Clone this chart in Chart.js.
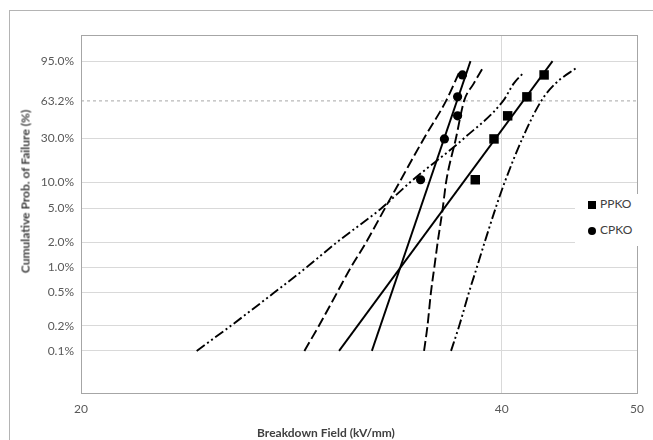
<!DOCTYPE html>
<html>
<head>
<meta charset="utf-8">
<script src="https://cdn.jsdelivr.net/npm/chart.js@4/dist/chart.umd.min.js"></script>
<style>
  body { margin: 0; background: #fff; font-family: Lato, sans-serif; }
  #wrap { position: relative; width: 653px; height: 440px; overflow: hidden; }
  #frame { position: absolute; left: 9px; top: 10px; width: 700px; height: 500px; border: 1px solid #b4b4b4; }
  canvas { position: absolute; left: 0; top: 0; }
  .axis-title { position: absolute; font: bold 12px Lato, sans-serif; color: #404040; white-space: nowrap; text-align: center; }
  #ytitle { left: -75px; top: 184px; width: 200px; transform: rotate(-90deg); }
  #xtitle { left: 226px; top: 425px; width: 200px; }
  #legend { position: absolute; left: 575px; top: 194px; width: 66px; height: 52px; background: #fff; font: 12px Lato, sans-serif; color: #404040; }
  .item { position: absolute; left: 13px; height: 14px; line-height: 14px; }
  .item span { display: inline-block; width: 8px; height: 8px; background: #000; margin-right: 4px; vertical-align: -1px; }
  .item span.dot { border-radius: 50%; }
</style>
</head>
<body>
<div id="wrap">
  <div id="frame"></div>
  <canvas id="chart" width="653" height="440"></canvas>
  <div id="ytitle" class="axis-title">Cumulative Prob. of Failure (%)</div>
  <div id="xtitle" class="axis-title">Breakdown Field (kV/mm)</div>
  <div id="legend">
    <div class="item" style="top:3px"><span></span>PPKO</div>
    <div class="item" style="top:29px"><span class="dot"></span>CPKO</div>
  </div>
</div>
<script>
// axis ticks
const probTicks = [0.1, 0.2, 0.5, 1, 2, 5, 10, 30, 63.2, 95];
const fieldTicks = [20, 40, 50];

// measured breakdown points (median ranks, %)
const rankProb = [10.7, 29.5, 48.4, 67.3, 87.1];
const ppkoField = [38.3, 39.5, 40.4, 41.7, 42.9];
const cpkoField = [35.0, 36.4, 37.2, 37.2, 37.5];

// Weibull fit lines
const fitProb = [0.1, 95];
const ppkoFit = [30.6, 43.5];
const cpkoFit = [32.3, 38.0];

// confidence bounds
const ppkoLowerProb = [0.1, 0.2, 0.5, 1, 2, 5, 10, 30, 63.2, 80, 89];
const ppkoLower = [24.2, 25.6, 27.5, 29.0, 30.5, 32.8, 34.4, 37.6, 40.1, 40.8, 41.5];
const ppkoUpperProb = [0.1, 0.2, 0.5, 1, 2, 5, 10, 30, 63.2, 80, 92];
const ppkoUpper = [36.8, 37.3, 37.9, 38.4, 38.9, 39.6, 40.2, 41.4, 42.7, 43.7, 45.3];
const cpkoLowerProb = [0.1, 0.2, 0.5, 1, 2, 5, 10, 30, 63.2, 89];
const cpkoLower = [28.9, 29.6, 30.5, 31.2, 32.0, 33.0, 33.8, 35.2, 36.5, 37.3];
const cpkoUpperProb = [0.1, 0.2, 0.5, 1, 2, 5, 10, 30, 63.2, 80, 92];
const cpkoUpper = [35.2, 35.4, 35.6, 35.8, 36.0, 36.3, 36.5, 37.1, 37.6, 38.2, 38.8];

// 63.2% reference line
const refField = [20, 50];
const refProb = [63.2, 63.2];

// Weibull probability paper: y = ln(-ln(1 - F))
const weib = p => Math.log(-Math.log(1 - p / 100));
const toPoints = (xs, ps) => xs.map((x, i) => ({ x: x, y: weib(ps[i]) }));

const lineStyle = (data, dash, order) => ({
    type: 'line',
    data: data,
    borderColor: '#000',
    borderWidth: 1.9,
    borderDash: dash,
    pointRadius: 0,
    cubicInterpolationMode: 'monotone',
    fill: false,
    order: order
});

// plot area frame
const plotFrame = {
    id: 'plotFrame',
    beforeDatasetsDraw(chart) {
        const a = chart.chartArea;
        const ctx = chart.ctx;
        ctx.save();
        ctx.strokeStyle = '#a6a6a6';
        ctx.lineWidth = 1;
        ctx.strokeRect(Math.round(a.left) + 0.5, Math.round(a.top) + 0.5, Math.round(a.right - a.left), Math.round(a.bottom - a.top));
        ctx.restore();
    }
};

Chart.defaults.font.family = 'Lato';
Chart.defaults.font.size = 12;
Chart.defaults.color = '#595959';

new Chart(document.getElementById('chart'), {
    type: 'scatter',
    data: {
        datasets: [
            Object.assign(lineStyle(toPoints(refField, refProb), [3, 3], 10), { borderColor: '#a6a6a6', borderWidth: 1 }),
            lineStyle(toPoints(ppkoFit, fitProb), [], 5),
            lineStyle(toPoints(cpkoFit, fitProb), [], 5),
            lineStyle(toPoints(ppkoLower, ppkoLowerProb), [10, 3, 2, 3, 2, 3], 5),
            lineStyle(toPoints(ppkoUpper, ppkoUpperProb), [10, 3, 2, 3, 2, 3], 5),
            lineStyle(toPoints(cpkoLower, cpkoLowerProb), [10, 4], 5),
            lineStyle(toPoints(cpkoUpper, cpkoUpperProb), [10, 4], 5),
            {
                label: 'PPKO',
                data: toPoints(ppkoField, rankProb),
                pointStyle: 'rect',
                pointRadius: 6.7,
                backgroundColor: '#000',
                borderColor: '#000',
                borderWidth: 0,
                order: 1
            },
            {
                label: 'CPKO',
                data: toPoints(cpkoField, rankProb),
                pointStyle: 'circle',
                pointRadius: 4.6,
                backgroundColor: '#000',
                borderColor: '#000',
                borderWidth: 0,
                order: 1
            }
        ]
    },
    options: {
        responsive: false,
        animation: false,
        layout: { padding: { left: 0, top: 35, right: 11, bottom: 0 } },
        plugins: {
            legend: { display: false },
            tooltip: { enabled: false }
        },
        scales: {
            x: {
                type: 'logarithmic',
                min: 20,
                max: 50,
                afterBuildTicks: scale => { scale.ticks = fieldTicks.map(v => ({ value: v })); },
                afterFit: scale => { scale.height = 47; },
                ticks: {
                    autoSkip: false,
                    maxRotation: 0,
                    padding: 9,
                    callback: v => String(v)
                },
                grid: {
                    drawTicks: false,
                    color: ctx => (ctx.tick && ctx.tick.value === 40) ? '#d9d9d9' : 'transparent'
                },
                border: { display: false }
            },
            y: {
                type: 'linear',
                min: -8.07,
                max: 1.82,
                afterBuildTicks: scale => { scale.ticks = probTicks.map(p => ({ value: weib(p) })); },
                afterFit: scale => { scale.width = 81; },
                ticks: {
                    autoSkip: false,
                    padding: 7,
                    callback: (v, i) => probTicks[i].toFixed(1) + '%'
                },
                grid: {
                    drawTicks: false,
                    color: ctx => probTicks[ctx.index] === 63.2 ? 'transparent' : '#d9d9d9'
                },
                border: { display: false }
            }
        }
    },
    plugins: [plotFrame]
});
</script>
</body>
</html>
